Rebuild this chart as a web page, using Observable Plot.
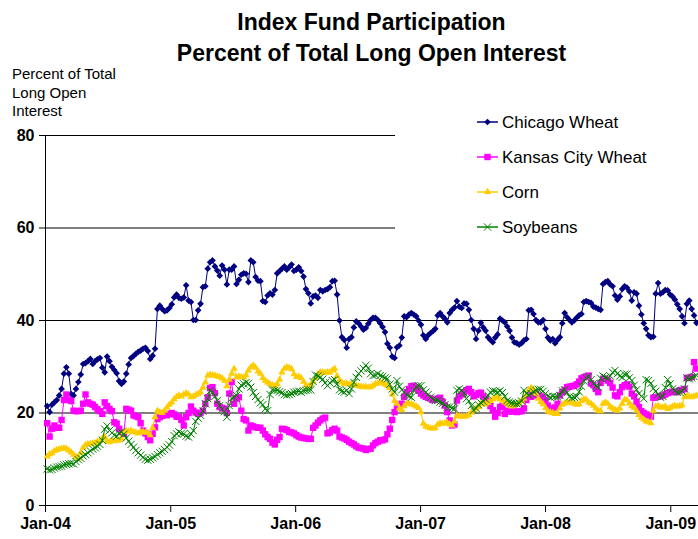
<!DOCTYPE html>
<html><head><meta charset="utf-8">
<script src="https://cdn.jsdelivr.net/npm/d3@7"></script>
<script src="https://cdn.jsdelivr.net/npm/@observablehq/plot@0.6"></script>
<style>
body{margin:0;background:#fff;font-family:Arial,"Liberation Sans",sans-serif;color:#000;}
#wrap{position:relative;width:698px;height:539px;overflow:hidden;background:#fff;}
#chart{position:absolute;left:0;top:0;}
#title{position:absolute;left:45px;width:653px;top:7px;text-align:center;font-weight:bold;font-size:23px;line-height:31px;}
#ylab{position:absolute;left:12px;top:65px;font-size:15px;line-height:18.5px;}
#legend{position:absolute;left:395px;top:100px;width:303px;height:150px;background:#fff;}
</style></head><body>
<div id="wrap">
<div id="chart"></div>
<div id="title">Index Fund Participation<br>Percent of Total Long Open Interest</div>
<div id="ylab">Percent of Total<br>Long Open<br>Interest</div>
<div id="legend"></div>
</div>
<script>
// Weekly reports, first one 2004-01-06
const seriesNames = ["Chicago Wheat", "Kansas City Wheat", "Corn", "Soybeans"];
const yTicks = [0, 20, 40, 60, 80];
const tickLabels = ["Jan-04", "Jan-05", "Jan-06", "Jan-07", "Jan-08", "Jan-09"];

const chicagoWheat = [
21.5,20.2,21.8,22.3,22.8,23.8,25.2,28.5,29.9,28.5,
24.1,23.8,25.2,26.7,28.3,30.6,30.8,31.2,31.7,30.6,
31.2,31.6,31.9,29.8,28.8,32.2,31.2,30.0,29.3,28.6,
26.9,26.3,26.8,28.5,30.5,31.9,32.3,32.8,33.2,33.5,
33.9,34.1,33.4,31.7,32.4,33.9,42.5,43.2,42.5,42.0,
42.2,42.7,43.5,45.0,45.6,44.9,44.7,45.0,47.6,44.3,
44.0,40.1,40.1,42.2,43.6,47.2,47.4,51.2,52.6,53.0,
51.7,50.8,49.7,51.9,51.0,47.8,51.0,51.0,51.7,47.9,
48.8,49.9,50.2,50.1,48.3,53.0,52.6,49.4,48.6,48.5,
44.2,44.0,45.4,45.9,45.6,46.6,50.2,50.7,51.2,51.7,
51.0,51.5,52.1,50.7,51.0,51.5,50.7,49.5,46.8,45.9,
43.7,45.2,45.4,44.9,46.6,46.3,46.6,46.8,47.2,48.5,
48.6,45.6,40.0,36.4,35.8,34.1,36.0,36.4,38.5,39.8,
39.4,38.7,38.0,38.4,39.3,40.1,40.6,40.6,40.1,39.4,
38.6,37.5,35.0,34.1,32.2,31.9,34.2,34.6,36.3,40.9,
40.7,41.3,41.6,41.3,40.9,40.0,39.1,36.8,36.0,36.8,
37.3,37.7,38.2,41.1,41.6,40.9,40.4,39.6,41.6,42.3,
42.8,44.2,43.0,42.7,43.7,43.6,42.3,40.1,38.2,36.0,
37.8,39.5,38.5,37.8,36.4,35.8,35.3,36.3,37.0,40.4,
40.0,39.6,38.7,37.8,36.3,35.3,35.1,34.8,35.1,35.7,
36.0,42.2,42.3,41.4,40.1,39.6,39.6,40.1,38.2,36.3,
35.7,36.0,35.1,35.8,36.4,39.4,41.6,40.7,40.1,39.6,
40.0,40.6,41.1,41.4,44.0,44.2,44.0,43.8,43.0,42.8,
42.5,42.3,47.9,48.3,48.5,47.8,47.4,45.4,44.5,45.2,
46.8,47.4,47.1,46.3,44.3,46.1,45.8,43.2,41.3,39.4,
38.2,36.8,36.4,36.5,45.8,48.1,45.8,46.1,46.6,46.5,
45.6,45.2,44.5,43.5,42.5,40.9,39.4,43.6,44.3,42.5,41.1,39.5];

const kansasCityWheat = [
17.8,14.9,16.6,17.3,16.8,16.8,18.5,22.8,24.0,22.8,
22.6,20.5,20.4,20.4,20.5,22.0,24.0,22.3,22.0,21.8,
21.3,20.8,20.4,19.8,22.3,21.5,20.9,20.4,18.0,17.7,
16.6,15.9,15.5,20.9,20.7,20.5,19.5,19.3,19.1,17.8,
16.2,15.6,14.8,14.1,15.5,16.9,18.7,19.1,19.4,19.7,
19.5,19.8,20.0,19.7,19.2,19.2,18.5,17.3,19.1,20.0,
21.4,20.5,20.1,19.8,20.0,20.5,22.0,23.4,25.4,25.6,
24.3,22.0,21.3,21.1,20.9,20.0,24.2,26.7,22.0,23.1,
23.4,20.5,18.7,18.4,16.2,17.3,17.1,16.9,16.8,16.8,
16.2,15.4,14.8,14.4,13.6,13.2,14.2,14.8,16.6,16.5,
16.3,15.9,15.8,15.6,15.2,14.9,14.7,14.6,14.5,14.4,
14.4,16.8,17.3,17.9,18.4,18.8,19.0,15.6,15.8,16.3,
16.6,16.2,14.9,14.7,14.5,14.2,13.8,13.5,13.2,12.8,
12.5,12.4,12.3,12.0,12.2,12.3,13.0,13.5,13.8,14.1,
14.1,14.3,15.4,16.6,18.5,20.2,21.3,21.8,22.0,23.5,
24.5,25.2,25.8,25.9,25.4,24.8,24.2,23.8,23.5,23.3,
23.1,22.8,22.9,23.1,23.3,22.5,21.6,20.2,18.4,17.3,
17.5,22.7,23.6,24.0,24.5,24.9,25.2,24.5,23.6,23.9,
24.3,24.4,23.6,23.0,22.5,21.5,20.6,19.2,20.0,21.3,
21.5,19.8,20.5,20.3,20.3,20.5,20.2,20.3,20.4,21.0,
22.8,23.8,23.5,23.8,24.2,23.8,23.6,23.2,22.7,21.6,
21.0,20.9,21.2,22.0,23.8,24.5,25.0,25.6,25.7,25.8,
25.9,26.2,26.8,27.5,27.7,27.9,28.1,26.4,26.0,25.2,
24.5,26.5,27.4,27.4,27.0,26.5,25.5,23.8,23.6,24.5,
25.6,26.0,26.2,25.7,24.2,23.6,22.4,21.3,20.4,20.0,
19.7,19.5,19.2,23.3,23.4,23.5,23.6,23.8,24.0,24.3,
24.5,24.6,24.6,24.5,24.9,25.0,25.2,27.6,27.6,27.8,31.0,29.6];

const corn = [
10.6,11.1,11.3,11.8,12.0,12.2,12.3,12.4,12.3,11.9,
11.5,11.0,10.5,10.2,11.4,12.5,13.1,13.3,13.3,13.4,
13.5,13.8,14.1,14.5,14.8,13.9,13.7,14.0,13.9,14.1,
14.1,14.5,15.9,16.1,16.0,16.2,15.9,15.8,15.6,15.9,
15.9,15.8,15.7,15.2,16.8,19.1,20.5,20.2,20.0,20.5,
21.2,21.8,22.3,23.0,23.5,23.8,23.6,24.0,24.3,24.0,
23.4,23.6,23.9,24.2,24.5,25.5,26.6,28.1,28.3,28.2,
28.1,27.9,27.8,27.5,27.0,25.8,27.2,28.5,29.6,27.7,
27.9,27.8,27.7,28.2,29.2,29.9,30.3,29.8,29.0,28.5,
27.6,27.0,26.6,26.3,26.0,25.8,26.3,27.2,28.8,29.6,
29.9,29.8,29.5,28.4,27.8,27.9,27.6,26.8,26.0,25.7,
26.2,26.8,27.6,28.4,28.8,28.8,28.7,28.8,28.8,29.2,
29.6,28.0,27.1,26.6,26.3,26.4,26.2,26.3,26.1,25.9,
25.8,25.7,25.6,25.7,25.6,25.6,25.9,26.3,26.4,26.7,
26.5,26.2,25.9,25.4,24.0,22.6,22.0,21.0,20.6,21.5,
22.0,22.0,21.9,21.7,21.4,21.1,20.2,17.7,17.1,16.9,
16.7,16.6,16.8,17.5,17.8,17.7,17.8,17.9,17.6,17.3,
18.2,19.4,19.3,19.2,19.2,19.3,19.6,20.1,20.6,21.0,
21.3,22.0,21.9,21.9,22.2,22.6,23.0,23.3,23.4,23.0,
22.7,22.3,22.0,21.7,21.4,21.7,21.9,22.2,22.6,23.1,
24.0,25.0,25.4,25.1,24.2,23.1,22.4,21.9,21.1,20.4,
20.2,20.0,19.8,19.8,21.0,21.8,22.1,22.3,22.3,22.2,
22.0,21.8,21.9,22.6,23.0,22.9,22.3,22.0,21.6,21.0,
20.5,20.4,22.0,22.3,22.0,21.3,21.0,20.7,20.5,21.0,
22.0,22.9,22.8,22.1,21.5,21.1,20.5,19.6,19.0,18.6,
18.2,18.0,17.8,20.5,21.4,21.6,21.2,21.2,21.4,20.9,
21.1,21.4,21.6,21.4,21.5,21.7,23.4,23.7,23.6,23.4,23.6,23.8];

const soybeans = [
7.9,7.7,7.8,8.1,8.3,8.4,8.5,8.8,8.9,9.0,
9.1,9.0,9.5,9.9,10.2,10.7,11.0,11.4,11.8,12.2,
12.5,12.8,13.2,14.1,16.5,17.2,16.2,15.7,15.2,15.0,
15.6,15.9,15.4,14.6,13.9,13.2,12.6,11.9,11.4,10.9,
10.4,10.0,9.8,10.0,10.3,10.6,11.0,11.4,11.7,12.1,
12.6,13.1,13.8,15.1,15.5,15.9,15.6,15.5,15.0,14.8,
15.5,16.2,18.2,18.9,19.5,20.4,22.0,23.1,24.8,24.5,
23.6,22.7,21.6,20.8,20.3,19.1,21.6,23.2,23.4,23.8,
25.2,26.0,26.3,26.6,26.4,25.6,24.4,23.6,22.9,22.2,
21.8,20.9,20.5,24.0,25.0,24.9,24.9,24.6,24.4,24.0,
23.9,24.0,24.2,24.5,24.6,24.7,24.5,24.8,24.9,25.0,
25.0,26.8,28.2,28.0,27.7,27.3,26.5,25.9,26.5,27.0,
27.2,26.3,25.0,24.7,24.5,24.9,24.2,25.2,26.6,27.7,
28.5,29.1,29.6,30.3,29.7,28.5,28.1,28.2,28.5,28.1,
27.9,27.6,27.4,26.2,25.2,24.5,27.0,25.8,25.0,24.5,
23.9,23.6,23.4,24.9,25.6,25.9,25.9,25.0,24.5,24.0,
23.4,23.0,22.7,22.7,22.4,22.1,21.8,21.3,21.3,21.1,
20.9,24.9,25.2,24.9,24.3,23.1,22.6,21.6,20.6,21.0,
21.8,22.2,22.5,23.0,23.8,24.5,24.8,24.7,24.5,24.8,
24.4,23.6,22.7,22.4,22.2,22.1,22.0,22.1,22.6,24.9,
24.2,23.9,24.2,24.6,24.9,25.1,25.1,24.7,24.2,23.6,
23.4,23.6,23.5,23.5,23.8,24.8,25.0,24.4,23.5,23.3,
23.4,23.6,24.6,25.8,26.9,27.6,27.9,27.2,26.4,25.8,
25.6,27.5,28.0,27.7,27.5,28.0,28.8,29.2,28.5,28.0,
27.7,28.4,28.4,27.6,27.0,26.0,25.0,24.2,23.6,23.1,
27.2,27.0,26.4,25.3,24.7,24.0,23.4,23.6,25.5,27.2,
26.3,25.2,24.8,24.5,24.5,24.7,25.2,27.6,27.4,27.6,27.9,28.1];

const DAY = 864e5;
const firstReport = Date.UTC(2004, 0, 6);
const dates = chicagoWheat.map((_, i) => new Date(firstReport + i * 7 * DAY));
const tickDates = tickLabels.map((_, k) => new Date(Date.UTC(2004 + k, 0, 1)));
const xStart = new Date(Date.UTC(2004, 0, 1));
const xEnd = new Date(Date.UTC(2009, 2, 23));

const seriesValues = [chicagoWheat, kansasCityWheat, corn, soybeans];
const seriesColors = ["#000080", "#FF00FF", "#FFCC00", "#008000"];
const seriesSymbols = ["diamond2", "square", "triangle", "times"];
const seriesR = [3, 3.6, 2.7, 3.4];
const seriesFilled = [true, true, true, false];

const marks = [
  Plot.ruleY(yTicks, {stroke: "#000", strokeWidth: 1}),
  Plot.ruleX([xStart], {y1: 0, y2: 80, stroke: "#000", strokeWidth: 1})
];
seriesNames.forEach((name, k) => {
  const rows = seriesValues[k].map((v, i) => ({date: dates[i], value: v}));
  marks.push(Plot.line(rows, {x: "date", y: "value", stroke: seriesColors[k], strokeWidth: 1}));
  marks.push(Plot.dot(rows, {
    x: "date", y: "value", symbol: seriesSymbols[k], r: seriesR[k],
    fill: seriesFilled[k] ? seriesColors[k] : "none",
    stroke: seriesFilled[k] ? "none" : seriesColors[k],
    strokeWidth: 1
  }));
});
marks.push(Plot.axisY({ticks: yTicks, tickFormat: d => String(d), tickSize: 6, tickPadding: 5, fontSize: 16, label: null}));
marks.push(Plot.axisX({ticks: tickDates, tickFormat: d => tickLabels[tickDates.findIndex(t => +t === +d)], tickSize: 7, tickPadding: 5, fontSize: 16, label: null}));

const chart = Plot.plot({
  width: 698, height: 539,
  marginLeft: 45, marginRight: 0, marginTop: 135, marginBottom: 34,
  x: {type: "utc", domain: [xStart, xEnd]},
  y: {domain: [0, 80]},
  style: {fontFamily: "Arial, 'Liberation Sans', sans-serif", fontWeight: "bold", background: "white", color: "#000"},
  marks
});
document.getElementById("chart").appendChild(chart);

// Legend
const lg = d3.select("#legend").append("svg").attr("width", 303).attr("height", 150)
  .style("font-family", "Arial, 'Liberation Sans', sans-serif");
seriesNames.forEach((name, k) => {
  const cy = 22 + 35 * k;
  const g = lg.append("g");
  g.append("line").attr("x1", 82).attr("x2", 103).attr("y1", cy).attr("y2", cy)
    .attr("stroke", seriesColors[k]).attr("stroke-width", 1.5);
  const symMap = {diamond2: d3.symbolDiamond2, square: d3.symbolSquare, triangle: d3.symbolTriangle, times: d3.symbolTimes};
  const size = Math.PI * seriesR[k] * seriesR[k];
  g.append("path").attr("d", d3.symbol(symMap[seriesSymbols[k]], size)())
    .attr("transform", `translate(92.5,${cy})`)
    .attr("fill", seriesFilled[k] ? seriesColors[k] : "none")
    .attr("stroke", seriesFilled[k] ? "none" : seriesColors[k])
    .attr("stroke-width", 1);
  g.append("text").attr("x", 107).attr("y", cy).attr("dy", "0.35em")
    .attr("font-size", 17).attr("fill", "#000").text(name);
});
</script>
</body></html>
